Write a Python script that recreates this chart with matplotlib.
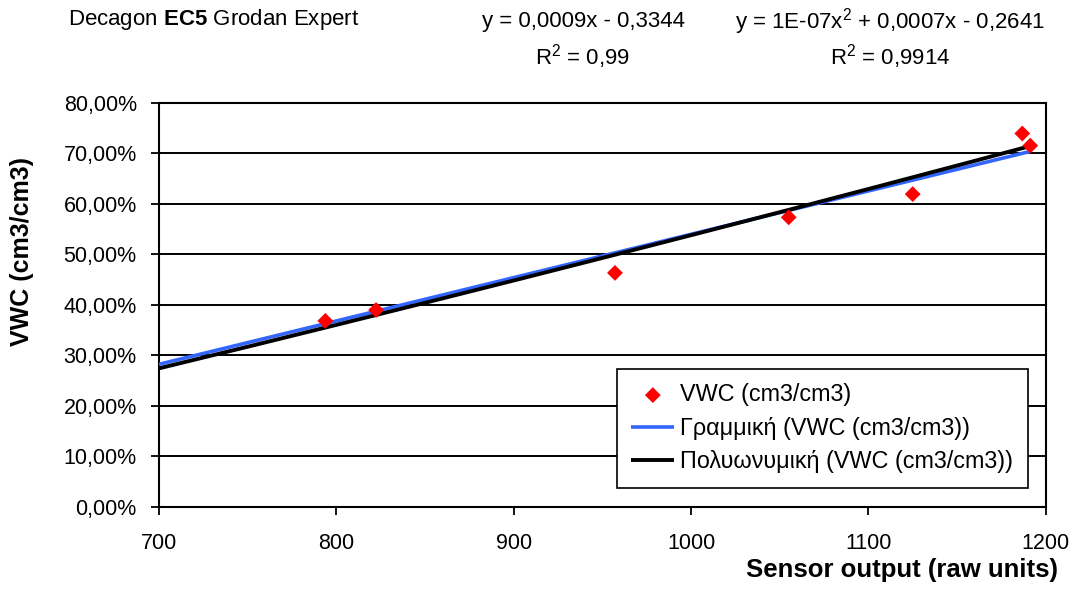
import numpy as np
import matplotlib
matplotlib.use("Agg")
import matplotlib.pyplot as plt
from matplotlib.ticker import FuncFormatter

plt.rcParams['font.family'] = ['Liberation Sans', 'DejaVu Sans']
plt.rcParams['mathtext.fontset'] = 'custom'
plt.rcParams['mathtext.rm'] = 'Liberation Sans'
plt.rcParams['mathtext.it'] = 'Liberation Sans:italic'
plt.rcParams['mathtext.bf'] = 'Liberation Sans:bold'

# Data
sensor_output = [793.8, 822.4, 957.1, 1055.1, 1125.0, 1186.8, 1191.3]
vwc = [0.368, 0.3895, 0.463, 0.573, 0.619, 0.739, 0.715]

# Trendline coefficients as drawn in the chart (highest power first)
linear_coef = [0.000858, -0.3186]
poly_coef = [9.0e-8, 0.0007258, -0.2782]
trend_start = 700

x_ticks = [700, 800, 900, 1000, 1100, 1200]
y_ticks = [0.0, 0.1, 0.2, 0.3, 0.4, 0.5, 0.6, 0.7, 0.8]

series_label = "VWC (cm3/cm3)"
lin_label = "Γραμμική (VWC (cm3/cm3))"
poly_label = "Πολυωνυμική (VWC (cm3/cm3))"
title_text = "Decagon $\\mathbf{EC5}$ Grodan Expert"
eq_lin = "y = 0,0009x - 0,3344"
r2_lin = "R$^\\mathrm{2}$ = 0,99"
eq_poly = "y = 1E-07x$^\\mathrm{2}$ + 0,0007x - 0,2641"
r2_poly = "R$^\\mathrm{2}$ = 0,9914"

fig = plt.figure(figsize=(10.75, 5.92), dpi=100)
ax = fig.add_axes([159/1075, 1-506.7/592, (1045.7-159)/1075, (506.7-102.7)/592])

xs = np.array(sensor_output)
ys = np.array(vwc)
xfit = np.linspace(trend_start, xs.max(), 300)

ax.plot(xfit, np.polyval(linear_coef, xfit), color='#3366FF', lw=2.6,
        label=lin_label, zorder=3, solid_capstyle='butt')
ax.plot(xfit, np.polyval(poly_coef, xfit), color='black', lw=2.8,
        label=poly_label, zorder=3.5, solid_capstyle='butt')
ax.scatter(xs, ys, marker='D', s=65, color='red', edgecolors='none',
           label=series_label, zorder=4)

ax.set_xlim(700, 1200)
ax.set_ylim(0, 0.8)
ax.set_xticks(x_ticks)
ax.set_yticks(y_ticks)
ax.yaxis.set_major_formatter(FuncFormatter(lambda v, p: f"{v*100:.2f}%".replace('.', ',')))
ax.grid(axis='y', color='black', lw=1.4)
ax.set_axisbelow(True)
for s in ax.spines.values():
    s.set_color('black')
    s.set_linewidth(1.5)
ax.tick_params(axis='both', direction='out', length=6, width=1.3, labelsize=15.5, colors='black')
ax.tick_params(axis='x', pad=13)
ax.tick_params(axis='y', pad=10)

handles, labels = ax.get_legend_handles_labels()
order = [2, 0, 1]
leg = ax.legend([handles[i] for i in order], [labels[i] for i in order],
                loc='lower right', bbox_to_anchor=(1027.7/1075, 1-487.7/592),
                bbox_transform=fig.transFigure, fontsize=16.8, frameon=True,
                fancybox=False, edgecolor='black', framealpha=1, borderpad=0.62,
                handlelength=1.85, handletextpad=0.25, labelspacing=0.45, borderaxespad=0)
leg.get_frame().set_linewidth(1.2)

fig.text(22/1075, 1-252/592, "VWC (cm3/cm3)", rotation=90, fontsize=18,
         fontweight='bold', ha='center', va='center')
fig.text(1058/1075, 1-577/592, "Sensor output (raw units)", fontsize=18.5,
         fontweight='bold', ha='right', va='baseline')

fig.text(68/1075, 1-20/592, title_text, fontsize=16, ha='left', va='center')
fig.text(583/1075, 1-22/592, eq_lin, fontsize=16, ha='center', va='center')
fig.text(583/1075, 1-57/592, r2_lin, fontsize=16, ha='center', va='center')
fig.text(890/1075, 1-22/592, eq_poly, fontsize=16, ha='center', va='center')
fig.text(890/1075, 1-57/592, r2_poly, fontsize=16, ha='center', va='center')

fig.savefig("out.png", dpi=100)
